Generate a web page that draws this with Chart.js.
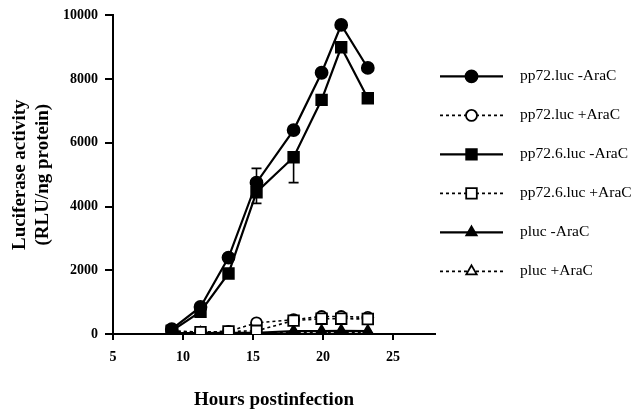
<!DOCTYPE html>
<html><head><meta charset="utf-8">
<script src="https://cdn.jsdelivr.net/npm/chart.js@4.4.1/dist/chart.umd.min.js"></script>
<style>html,body{margin:0;padding:0;background:#fff}#wrap{width:637px;height:415px}</style>
</head><body><div id="wrap"><canvas id="c" width="637" height="415"></canvas></div>
<script>
const hours = [9.2, 11.25, 13.25, 15.25, 17.9, 19.9, 21.3, 23.2];
const pp72Minus = [150, 850, 2400, 4750, 6400, 8200, 9700, 8350];
const pp72Plus = [100, 60, 80, 350, 450, 550, 550, 520];
const pp726Minus = [100, 700, 1900, 4450, 5550, 7350, 9000, 7400];
const pp726Plus = [80, 60, 80, 100, 420, 480, 480, 470];
const plucMinus = [30, 30, 40, 40, 90, 90, 100, 90];
const plucPlus = [20, 20, 30, 30, 40, 40, 50, 40];
const pp72MinusErr = [null, null, null, 5200, null, null, null, null];
const pp726MinusErr = [null, null, null, 4100, 4750, null, null, null];
const seriesNames = ['pp72.luc -AraC', 'pp72.luc +AraC', 'pp72.6.luc -AraC', 'pp72.6.luc +AraC', 'pluc -AraC', 'pluc +AraC'];
const xTicks = [5, 10, 15, 20, 25];
const yTicks = [0, 2000, 4000, 6000, 8000, 10000];

const FONT = "'Liberation Serif', 'Times New Roman', serif";
const pts = arr => arr.map((v, i) => ({x: hours[i], y: v}));

function ds(label, data, style, filled, dashed, radius, order, err) {
  return {
    label, data: pts(data), pointStyle: style,
    borderColor: '#000', backgroundColor: filled ? '#000' : '#fff',
    pointBackgroundColor: filled ? '#000' : '#fff', pointBorderColor: '#000',
    pointBorderWidth: 1.8, pointRadius: radius, pointHoverRadius: radius,
    borderWidth: dashed ? 1.6 : 2.2, borderDash: dashed ? [3, 3] : [],
    fill: false, tension: 0, order, err
  };
}

const datasets = [
  ds(seriesNames[0], pp72Minus, 'circle', true, false, 6, 1, pp72MinusErr),
  ds(seriesNames[1], pp72Plus, 'circle', false, true, 5.5, 3),
  ds(seriesNames[2], pp726Minus, 'rect', true, false, 7.5, 0, pp726MinusErr),
  ds(seriesNames[3], pp726Plus, 'rect', false, true, 7.5, 2),
  ds(seriesNames[4], plucMinus, 'triangle', true, false, 6, 4),
  ds(seriesNames[5], plucPlus, 'triangle', false, true, 6, 5)
];

const errorBars = {
  id: 'errorBars',
  afterDatasetsDraw(chart) {
    const ctx = chart.ctx, xs = chart.scales.x, ys = chart.scales.y;
    ctx.save();
    ctx.strokeStyle = '#000'; ctx.lineWidth = 1.6;
    chart.data.datasets.forEach(d => {
      if (!d.err) return;
      d.err.forEach((e, i) => {
        if (e == null) return;
        const px = xs.getPixelForValue(hours[i]);
        const py0 = ys.getPixelForValue(d.data[i].y);
        const py1 = ys.getPixelForValue(e);
        ctx.beginPath();
        ctx.moveTo(px, py0); ctx.lineTo(px, py1);
        ctx.moveTo(px - 5, py1); ctx.lineTo(px + 5, py1);
        ctx.stroke();
      });
    });
    ctx.restore();
  }
};

const customLegend = {
  id: 'customLegend',
  afterDraw(chart) {
    const ctx = chart.ctx, ca = chart.chartArea;
    const x0 = ca.right + 5, x1 = ca.right + 68, xm = (x0 + x1) / 2, tx = ca.right + 85;
    ctx.save();
    chart.data.datasets.forEach((d, i) => {
      const y = ca.top + 61 + i * 39;
      ctx.strokeStyle = '#000';
      ctx.lineWidth = d.borderWidth;
      ctx.setLineDash(d.borderDash);
      ctx.beginPath(); ctx.moveTo(x0, y); ctx.lineTo(x1, y); ctx.stroke();
      ctx.setLineDash([]);
      ctx.fillStyle = d.pointBackgroundColor;
      ctx.lineWidth = d.pointBorderWidth;
      Chart.helpers.drawPoint(ctx, {pointStyle: d.pointStyle, radius: d.pointRadius, rotation: 0, borderWidth: d.pointBorderWidth}, xm, y);
      ctx.fillStyle = '#000';
      ctx.font = '15.5px ' + FONT;
      ctx.textBaseline = 'middle';
      ctx.textAlign = 'left';
      ctx.fillText(d.label, tx, y);
    });
    ctx.restore();
  }
};

new Chart(document.getElementById('c'), {
  type: 'line',
  data: {datasets},
  options: {
    responsive: false, animation: false,
    layout: {padding: {top: 15, right: 202, left: 9, bottom: 0}},
    plugins: {legend: {display: false}, tooltip: {enabled: false}},
    scales: {
      x: {
        type: 'linear', min: 5, max: 28,
        afterBuildTicks: s => { s.ticks = xTicks.map(v => ({value: v})); },
        afterFit: s => { s.height = 81; },
        grid: {drawOnChartArea: false, drawTicks: true, tickLength: 6, color: '#000', lineWidth: 2},
        border: {display: true, color: '#000', width: 2},
        ticks: {color: '#000', font: {family: FONT, size: 14, weight: 'bold'}, padding: 9, maxRotation: 0, callback: v => String(v)},
        title: {display: true, text: 'Hours postinfection', color: '#000', font: {family: FONT, size: 19, weight: 'bold'}, padding: {top: 21}}
      },
      y: {
        type: 'linear', min: 0, max: 10000,
        afterBuildTicks: s => { s.ticks = yTicks.map(v => ({value: v})); },
        afterFit: s => { s.width = 104; },
        grid: {drawOnChartArea: false, drawTicks: true, tickLength: 8, color: '#000', lineWidth: 2},
        border: {display: true, color: '#000', width: 2},
        ticks: {color: '#000', font: {family: FONT, size: 14, weight: 'bold'}, padding: 7, callback: v => String(v)},
        title: {display: true, text: ['Luciferase activity', '(RLU/ng protein)'], color: '#000', font: {family: FONT, size: 19, weight: 'bold', lineHeight: 1.2}, padding: 0}
      }
    }
  },
  plugins: [errorBars, customLegend]
});
</script></body></html>
